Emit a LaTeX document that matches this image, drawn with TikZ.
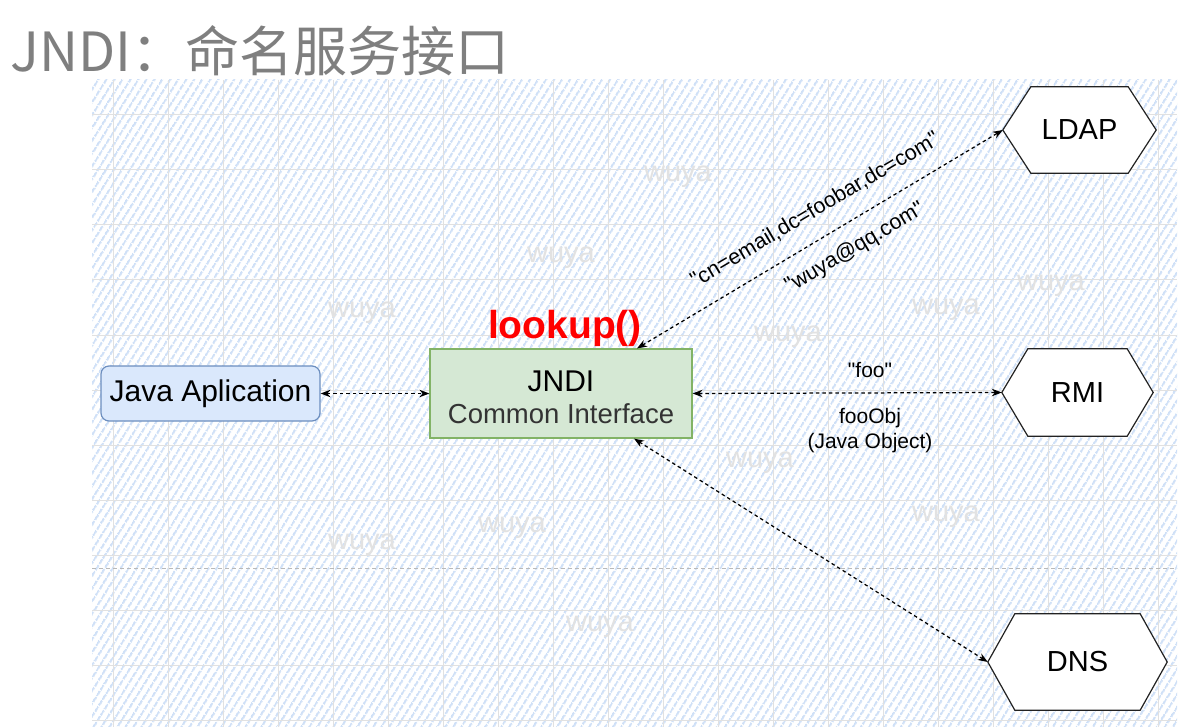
\documentclass[tikz,border=0pt]{standalone}
\usepackage{fontspec}
\setmainfont{Liberation Sans}[Ligatures=TeXOff]
\newfontfamily\cjkfont{Noto Sans CJK SC}
\usetikzlibrary{arrows.meta,patterns.meta,calc}
\definecolor{hatchc}{HTML}{CFE0F7}
\definecolor{gridc}{HTML}{E1E1E1}
\definecolor{wmc}{HTML}{E2E2E2}
\definecolor{javafill}{HTML}{DAE8FC}
\definecolor{javadraw}{HTML}{6C8EBF}
\definecolor{jndifill}{HTML}{D5E8D4}
\definecolor{jndidraw}{HTML}{82B366}
\definecolor{titlec}{HTML}{7F7F7F}
\definecolor{hexc}{HTML}{222222}
\definecolor{citext}{HTML}{333333}
\pgfdeclarelayer{bglayer}
\pgfdeclarelayer{hexlayer}
\pgfsetlayers{bglayer,hexlayer,main}
\newcommand{\fsz}[2]{\fontsize{#1pt}{#2pt}\selectfont}
\newcommand{\hexoutline}[2]{%
  \draw[hexc, line width=1.2pt, fill=white]
    ($(#1.north west)+(#2,0)$) -- ($(#1.north east)+(-#2,0)$) -- (#1.east)
    -- ($(#1.south east)+(-#2,0)$) -- ($(#1.south west)+(#2,0)$) -- (#1.west) -- cycle;}
\tikzset{
  wm/.style={text=wmc, font=\fsz{29}{34}, inner sep=0},
  conn/.style={draw=black, line width=1.25pt, dash pattern=on 3.5pt off 3pt,
    >={Stealth[length=10pt,width=7.5pt]}, <->},
  hexnode/.style={inner sep=0, font=\fsz{29}{34}},
  lbl/.style={font=\fsz{21}{25}, inner sep=0},
}
\begin{document}
\begin{tikzpicture}[x=1pt,y=-1pt]
\useasboundingbox (0,0) rectangle (1188,727);
\begin{pgfonlayer}{bglayer}
  \fill[white] (0,0) rectangle (1188,727);
  \pattern[pattern={Lines[angle=58,distance=6.5pt,line width=2.3pt]}, pattern color=hatchc]
    (92,80) rectangle (1177,727);
  \foreach \x in {113,168,...,1158} \draw[gridc, line width=1pt] (\x,80) -- (\x,727);
  \foreach \y in {115,170,...,720} \draw[gridc, line width=1pt] (92,\y) -- (1177,\y);
  \draw[gray!55, line width=1pt, dash pattern=on 4pt off 3pt] (92,568) -- (1177,568);
\end{pgfonlayer}

% title
\node[anchor=base west, text=titlec, inner sep=0, font=\cjkfont\fsz{54}{58}] (title) at (10,72) {JNDI：命名服务接口};

% watermarks
\node[wm] (wm1) at (678,177) {wuya};
\node[wm] (wm2) at (561,258) {wuya};
\node[wm] (wm3) at (362,313) {wuya};
\node[wm] (wm4) at (788,337) {wuya};
\node[wm] (wm5) at (946,310) {wuya};
\node[wm] (wm6) at (1051,286) {wuya};
\node[wm] (wm7) at (760,463) {wuya};
\node[wm] (wm8) at (512,528) {wuya};
\node[wm] (wm9) at (946,517) {wuya};
\node[wm] (wm10) at (362,545) {wuya};
\node[wm] (wm11) at (600,627) {wuya};

% main nodes
\node[draw=javadraw, fill=javafill, line width=1.2pt, rounded corners=8pt,
      minimum width=219pt, minimum height=55pt, inner sep=0, font=\fsz{30}{34}]
      (java) at (210.5,393.5) {\raisebox{-2pt}{Java Aplication}};
\node[draw=jndidraw, fill=jndifill, line width=1.2pt,
      minimum width=262pt, minimum height=89pt, inner sep=0] (jndi) at (561,393.5) {};
\node[anchor=base, inner sep=0, font=\fsz{30}{34}] (jnditop) at (561,391) {JNDI};
\node[anchor=base, inner sep=0, text=citext, font=\fsz{27.5}{32}] (jndibot) at (561,423) {Common Interface};

\node[anchor=base, inner sep=0, text=red, font=\bfseries\fsz{39}{44}] (lookup) at (565,338) {lookup()};

\node[hexnode, minimum width=153pt, minimum height=86pt] (ldap) at (1079.5,130) {LDAP};
\node[hexnode, minimum width=151pt, minimum height=87pt] (rmi) at (1077.5,392.5) {RMI};
\node[hexnode, minimum width=179pt, minimum height=96pt] (dns) at (1077.5,662) {DNS};
\begin{pgfonlayer}{hexlayer}
  \hexoutline{ldap}{28}
  \hexoutline{rmi}{26}
  \hexoutline{dns}{27}
\end{pgfonlayer}

% connectors
\draw[conn] (java.east) -- (jndi.west);
\draw[conn] ([xshift=76pt]jndi.north) -- (ldap.west);
\draw[conn] (jndi.east) -- (rmi.west);
\draw[conn] ([xshift=73pt]jndi.south) -- (dns.west);

% labels
\node[lbl, font=\fsz{21.5}{25}, rotate=30.6] (lblcn) at (815,210) {"cn=email,dc=foobar,dc=com"};
\node[lbl, font=\fsz{21.5}{25}, rotate=30.6] (lblwuya) at (855,248) {"wuya@qq.com"};
\node[lbl, anchor=base] (lblfoo) at (870,377) {"foo"};
\node[lbl, anchor=base] (lblobj) at (870,423) {fooObj};
\node[lbl, anchor=base] (lbljava) at (870,448) {(Java Object)};
\end{tikzpicture}
\end{document}
